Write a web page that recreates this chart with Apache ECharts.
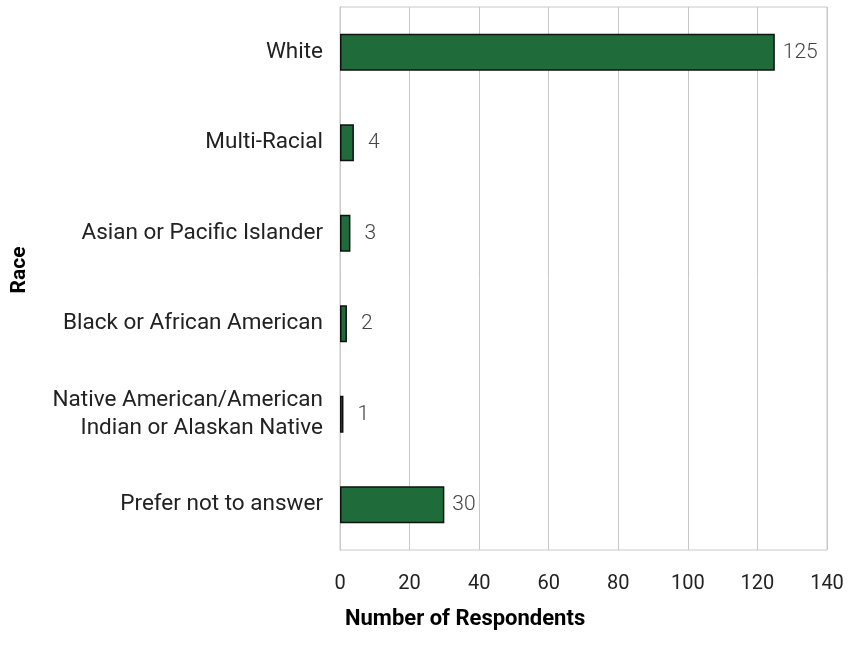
<!DOCTYPE html>
<html>
<head>
<meta charset="utf-8">
<script src="https://cdn.jsdelivr.net/npm/echarts@6/dist/echarts.min.js"></script>
<style>
  html, body { margin: 0; padding: 0; background: #fff; }
  #chart { width: 849px; height: 656px; }
</style>
</head>
<body>
<div id="chart"></div>
<script>
// Survey respondents by race
const categories = [
  'White',
  'Multi-Racial',
  'Asian or Pacific Islander',
  'Black or African American',
  'Native American/American\nIndian or Alaskan Native',
  'Prefer not to answer'
];
const respondents = [125, 4, 3, 2, 1, 30];
const xTicks = [0, 20, 40, 60, 80, 100, 120, 140];

const chart = echarts.init(document.getElementById('chart'));

chart.setOption({
  animation: false,
  backgroundColor: '#ffffff',
  textStyle: { fontFamily: 'Roboto' },
  grid: {
    left: 340, top: 7, width: 487, height: 543,
    show: true, borderColor: '#c8c8c8', borderWidth: 1
  },
  xAxis: {
    type: 'value',
    min: xTicks[0],
    max: xTicks[xTicks.length - 1],
    interval: 20,
    axisLine: { show: false },
    axisTick: { show: false },
    splitLine: { show: true, lineStyle: { color: '#c8c8c8', width: 1 } },
    axisLabel: { color: '#222', fontSize: 20, margin: 24, fontFamily: 'Roboto' }
  },
  yAxis: {
    type: 'category',
    data: categories,
    inverse: true,
    axisLine: { show: true, lineStyle: { color: '#c8c8c8', width: 1 } },
    axisTick: { show: false },
    axisLabel: { color: '#222', fontSize: 22.5, margin: 17, lineHeight: 28, fontFamily: 'Roboto', align: 'right' }
  },
  graphic: [{
    type: 'text',
    left: 345,
    top: 608,
    style: {
      text: 'Number of Respondents',
      fill: '#000',
      font: 'bold 22px Roboto'
    }
  }, {
    type: 'text',
    x: 9,
    y: 270,
    rotation: Math.PI / 2,
    style: {
      text: 'Race',
      fill: '#000',
      font: 'bold 21px Roboto',
      align: 'center',
      verticalAlign: 'top'
    }
  }],
  series: [{
    type: 'bar',
    barWidth: 37,
    data: respondents.map(v => ({
      value: v,
      label: { distance: v < 10 ? 14 : 8 }
    })),
    itemStyle: { color: '#1f6b3a', borderColor: '#111', borderWidth: 1.5 },
    label: {
      show: true,
      position: 'right',
      color: '#444',
      fontSize: 21,
      fontWeight: 300,
      fontFamily: 'Roboto'
    }
  }]
});
</script>
</body>
</html>
